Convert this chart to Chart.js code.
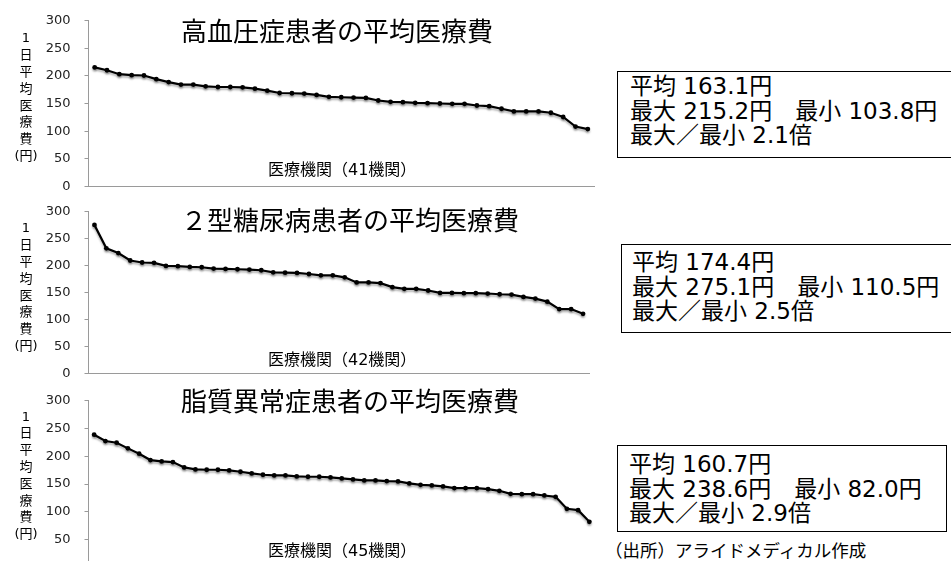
<!DOCTYPE html>
<html lang="ja">
<head>
<meta charset="utf-8">
<script src="https://cdn.jsdelivr.net/npm/chart.js@4.4.1/dist/chart.umd.min.js"></script>
<style>
  html, body { margin: 0; padding: 0; background: #fff; }
  body {
    width: 951px; height: 561px; overflow: hidden; position: relative;
    font-family: "DejaVu Sans", "Noto Sans CJK JP", sans-serif; color: #000;
  }
  .panel { position: absolute; left: 0; width: 600px; }
  .stats {
    position: absolute; box-sizing: border-box; border: 1.5px solid #000;
    font-size: 23px; line-height: 24.5px; white-space: nowrap;
  }
  .source { position: absolute; left: 605px; top: 539px; font-size: 17.5px; line-height: 22px; font-family: "Noto Sans CJK JP", sans-serif; }
</style>
</head>
<body>
<div class="panel" style="top:0px; height:207px"><canvas id="hypertensionChart"></canvas></div>
<div class="panel" style="top:191px; height:203px"><canvas id="diabetesChart"></canvas></div>
<div class="panel" style="top:380px; height:208px"><canvas id="lipidChart"></canvas></div>

<div class="stats" style="left:617px; top:71px; width:340px; height:87px; padding:2px 0 0 12px">
  平均 163.1円<br>最大 215.2円　最小 103.8円<br>最大／最小 2.1倍
</div>
<div class="stats" style="left:621px; top:244px; width:340px; height:89px; padding:5px 0 0 10px">
  平均 174.4円<br>最大 275.1円　最小 110.5円<br>最大／最小 2.5倍
</div>
<div class="stats" style="left:617px; top:445px; width:330px; height:87px; padding:6px 0 0 11px">
  平均 160.7円<br>最大 238.6円　最小 82.0円<br>最大／最小 2.9倍
</div>
<div class="source">（出所）アライドメディカル作成</div>

<script>
// 1日平均医療費（円）, sorted high to low, one value per 医療機関
const hypertensionCosts = [
  215.2, 210.1, 203.0, 201.2, 200.6, 194.0, 188.7, 184.2, 184.2, 181.0,
  179.8, 179.8, 179.2, 176.8, 173.2, 169.0, 168.5, 168.0, 165.5, 162.0,
  161.3, 160.7, 160.0, 155.4, 153.0, 152.4, 151.2, 150.6, 150.0, 149.4,
  149.4, 146.4, 145.2, 140.5, 135.7, 135.7, 135.7, 133.3, 125.6, 108.3,
  103.8
]
const diabetesCosts = [
  275.1, 231.8, 223.1, 209.3, 205.6, 204.9, 199.3, 198.7, 197.4, 196.8,
  194.3, 193.7, 193.1, 192.4, 191.2, 187.4, 186.8, 186.2, 184.3, 181.8,
  181.8, 178.1, 168.7, 168.7, 167.4, 159.9, 156.8, 156.8, 153.7, 149.3,
  149.3, 148.7, 148.7, 148.1, 146.8, 146.2, 141.8, 138.7, 133.1, 119.3,
  119.3, 110.5
]
const lipidCosts = [
  238.6, 227.2, 224.2, 214.0, 204.4, 193.0, 190.6, 189.4, 179.8, 176.2,
  175.6, 175.6, 174.4, 172.0, 169.0, 166.6, 165.4, 165.4, 163.6, 163.0,
  163.0, 161.8, 160.0, 158.2, 156.4, 156.4, 155.2, 154.6, 151.0, 148.6,
  147.4, 145.6, 142.6, 142.6, 142.6, 140.8, 137.8, 132.4, 131.8, 131.8,
  129.4, 127.0, 105.4, 103.0, 82.0
]
const yTicks = [0, 50, 100, 150, 200, 250, 300]
const yTitleChars = ["1", "日", "平", "均", "医", "療", "費", "(円)"]

const AXIS_GRAY = "#9a9a9a"

// titles, axis captions and the stacked y-axis title
const panelText = {
  id: "panelText",
  afterDraw(chart, args, opts) {
    const ctx = chart.ctx
    ctx.save()
    ctx.fillStyle = "#000"
    ctx.textBaseline = "middle"
    ctx.textAlign = "left"
    ctx.font = '26px "Noto Sans CJK JP"'
    ctx.fillText(opts.title, 181, opts.titleY)
    ctx.font = '16px "DejaVu Sans", "Noto Sans CJK JP"'
    ctx.fillText(opts.caption, 268, opts.captionY)
    ctx.textAlign = "center"
    ctx.font = '13px "DejaVu Sans", "Noto Sans CJK JP"'
    yTitleChars.forEach((ch, i) => ctx.fillText(ch, 26, opts.yTitleTop + i * 16.8))
    ctx.restore()
  }
}

// soft drop shadow under the line
const lineShadow = {
  id: "lineShadow",
  beforeDatasetsDraw(chart) {
    const ctx = chart.ctx
    ctx.save()
    ctx.shadowColor = "rgba(0,0,0,0.3)"
    ctx.shadowBlur = 2
    ctx.shadowOffsetY = 2
  },
  afterDatasetsDraw(chart) {
    chart.ctx.restore()
  }
}

// y tick label half height + tick padding sets the top/bottom inset of the plot (6.5 + 14)
function buildChart(id, values, text, rightPad) {
  const labels = values.map((v, i) => String(i + 1))
  return new Chart(document.getElementById(id), {
    type: "line",
    data: {
      labels,
      datasets: [{
        data: values,
        borderColor: "#000",
        borderWidth: 2.2,
        pointRadius: 2.4,
        pointBackgroundColor: "#000",
        pointBorderColor: "#000",
        pointBorderWidth: 0,
        tension: 0
      }]
    },
    options: {
      animation: false,
      responsive: true,
      maintainAspectRatio: false,
      layout: { padding: { left: 0, right: rightPad, top: 0, bottom: 0 } },
      plugins: {
        legend: { display: false },
        tooltip: { enabled: false },
        panelText: text
      },
      scales: {
        x: {
          offset: true,
          grid: { display: false },
          ticks: { display: false },
          border: { display: true, color: AXIS_GRAY, width: 1 },
          afterFit: (scale) => { scale.height = 0 }
        },
        y: {
          min: 0,
          max: 300,
          afterBuildTicks: (scale) => { scale.ticks = yTicks.map(v => ({ value: v })) },
          ticks: {
            color: "#222",
            padding: 14,
            font: { family: "DejaVu Sans", size: 13, lineHeight: 1 }
          },
          grid: { drawOnChartArea: false, drawTicks: true, tickLength: 4, color: AXIS_GRAY },
          border: { display: true, color: AXIS_GRAY, width: 1 },
          afterFit: (scale) => { scale.width = 88.5 }
        }
      }
    },
    plugins: [panelText, lineShadow]
  })
}

buildChart("hypertensionChart", hypertensionCosts,
  { title: "高血圧症患者の平均医療費", caption: "医療機関（41機関）", titleY: 31, captionY: 171, yTitleTop: 39 }, 6)

buildChart("diabetesChart", diabetesCosts,
  { title: "２型糖尿病患者の平均医療費", caption: "医療機関（42機関）", titleY: 29, captionY: 170, yTitleTop: 38 }, 11)

buildChart("lipidChart", lipidCosts,
  { title: "脂質異常症患者の平均医療費", caption: "医療機関（45機関）", titleY: 21, captionY: 172, yTitleTop: 37.3 }, 5)
</script>
</body>
</html>
